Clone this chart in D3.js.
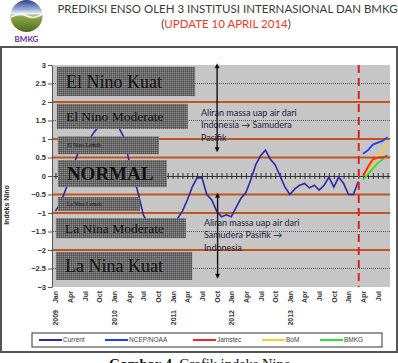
<!DOCTYPE html>
<html><head><meta charset="utf-8">
<script src="https://cdn.jsdelivr.net/npm/d3@7"></script>
<style>body{margin:0;background:#fff}svg{display:block}</style>
</head><body>
<svg id="c" width="398" height="363"></svg>
<script>
// ---------- data ----------
const years = [2009, 2010, 2011, 2012, 2013, 2014];
const monthNames = ["Jan","Feb","Mar","Apr","May","Jun","Jul","Aug","Sep","Oct","Nov","Dec"];
const categories = years.flatMap(y => monthNames.map(m => m + " " + y)).slice(0, 69); // Jan 2009 .. Sep 2014
const currentValues = [
  -0.95,-0.75,-0.4,-0.05,0.4,0.75,0.9,1.0,1.2,1.35,1.6,1.75,
  1.5,1.3,1.05,0.45,0.0,-0.5,-1.05,-1.3,-1.45,-1.5,-1.45,-1.5,
  -1.35,-1.15,-0.95,-0.65,-0.3,-0.05,-0.05,-0.5,-0.65,-0.95,-1.1,-1.05,
  -1.1,-0.85,-0.6,-0.45,-0.1,0.3,0.55,0.7,0.45,0.3,0.0,-0.3,
  -0.5,-0.35,-0.25,-0.2,-0.32,-0.25,-0.38,-0.25,-0.03,-0.3,-0.03,-0.2,
  -0.5,-0.5,-0.15
];
const forecastCats = ["Apr 2014","May 2014","Jun 2014","Jul 2014","Aug 2014","Sep 2014"];
const ncepValues    = [0.6, 0.7, 0.85, 0.9, 0.95, 1.05];
const jamstecValues = [0.0, 0.25, 0.45, 0.5, 0.5, 0.55];
const bomValues     = [0.0, 0.15, 0.35, 0.55, 0.7, 0.9];
const bmkgValues    = [-0.1, 0.05, 0.2, 0.35, 0.45, 0.55];
const yTicks = [3,2.5,2,1.5,1,0.5,0,-0.5,-1,-1.5,-2,-2.5,-3];
const xTickCats = categories.filter((d, i) => i % 3 === 0);
const thresholdLevels = [2, 1, 0.5, -0.5, -1, -2];
const dottedLevels = [2.5, 1.5, -1.5, -2.5];
const boxLabels = ["El Nino Kuat","El Nino Moderate","El Nino Lemah","NORMAL","La Nina Lemah","La Nina Moderate","La Nina Kuat"];
const seriesNames = ["Current","NCEP/NOAA","Jamstec","BoM","BMKG"];

// ---------- layout ----------
const svg = d3.select("#c");
const colors = {Current:"#2a2aa8","NCEP/NOAA":"#1f3cff",Jamstec:"#ff2020",BoM:"#ffcc33",BMKG:"#33dd33"};
const x = d3.scalePoint().domain(categories).range([53, 390]).padding(0.5);
const y = d3.scaleLinear().domain([-3, 3]).range([287, 65]);
const xi = d3.scaleLinear().domain([0, categories.length - 1]).range([x(categories[0]), x(categories[categories.length - 1])]);

// texture pattern
const defs = svg.append("defs");
const pat = defs.append("pattern").attr("id","tex").attr("width",2).attr("height",2).attr("patternUnits","userSpaceOnUse");
pat.append("rect").attr("width",2).attr("height",2).attr("fill","#6a6a6a");
pat.append("rect").attr("width",1).attr("height",1).attr("fill","#8e8e8e");
pat.append("rect").attr("x",1).attr("y",1).attr("width",1).attr("height",1).attr("fill","#4c4c4c");
const lg = defs.append("linearGradient").attr("id","globe").attr("x1",0).attr("y1",0).attr("x2",0).attr("y2",1);
[["0%","#2c3f8e"],["30%","#9fb2d8"],["42%","#e8eef6"],["52%","#8fa64a"],["100%","#4e6a1e"]].forEach(s=>lg.append("stop").attr("offset",s[0]).attr("stop-color",s[1]));

// title + logo
svg.append("circle").attr("cx",26.5).attr("cy",16).attr("r",16).attr("fill","url(#globe)");
svg.append("path").attr("d","M11,17 Q20,12 27,16 T42,14").attr("fill","none").attr("stroke","#fff").attr("stroke-width",1.5);
svg.append("text").attr("x",26.5).attr("y",42).attr("text-anchor","middle").attr("font-family","Lato, sans-serif").attr("font-weight","bold").attr("font-size",8).attr("fill","#6a2c91").text("BMKG");
svg.append("text").attr("x",227.5).attr("y",13).attr("text-anchor","middle").attr("font-family","Lato, sans-serif").attr("font-size",11.5).attr("fill","#3a3a3a").text("PREDIKSI ENSO OLEH 3 INSTITUSI INTERNASIONAL DAN BMKG");
const t2 = svg.append("text").attr("x",226).attr("y",28).attr("text-anchor","middle").attr("font-family","Lato, sans-serif").attr("font-size",11.5).attr("fill","#3a3a3a");
t2.append("tspan").text("(");
t2.append("tspan").attr("fill","#e8392b").text("UPDATE 10 APRIL 2014");
t2.append("tspan").text(")");

// frame
svg.append("rect").attr("x",1).attr("y",47).attr("width",396).attr("height",305).attr("fill","none").attr("stroke","#555").attr("stroke-width",2);

// plot background
svg.append("rect").attr("x",53).attr("y",65).attr("width",337).attr("height",222).attr("fill","#c6c6c6");

// dotted gridlines
svg.selectAll(".dot").data(dottedLevels).join("line")
  .attr("x1",53).attr("x2",390).attr("y1",d=>y(d)).attr("y2",d=>y(d))
  .attr("stroke","#555").attr("stroke-width",1).attr("stroke-dasharray","1,1");
// threshold lines
svg.selectAll(".thr").data(thresholdLevels).join("line")
  .attr("x1",53).attr("x2",390).attr("y1",d=>y(d)).attr("y2",d=>y(d))
  .attr("stroke","#c0561a").attr("stroke-width",2.2);

// category axis at 0
const ax0 = svg.append("g").attr("transform",`translate(0,${y(0)})`)
  .call(d3.axisBottom(x).tickValues(categories).tickSize(3).tickSizeOuter(0).tickFormat(""));
ax0.selectAll(".tick line").attr("y1",-3).attr("y2",3).attr("stroke","#333");
ax0.select(".domain").attr("stroke","#333");

// current line
const line = (cats) => d3.line().x((d,i)=>x(cats[i])).y(d=>y(d));
svg.append("path").attr("d",line(categories.slice(0,currentValues.length))(currentValues))
  .attr("fill","none").attr("stroke",colors.Current).attr("stroke-width",1.6);

// boxes (value ranges / category index ranges)
const boxes = [
  {label:boxLabels[0], i0:0.3, i1:28.6, v0:2.95, v1:2.16, size:18, weight:"normal"},
  {label:boxLabels[1], i0:0.3, i1:27.1, v0:1.95, v1:1.27, size:13.5, weight:"normal"},
  {label:boxLabels[2], i0:0.5, i1:21.2, v0:1.07, v1:0.59, size:5.5, weight:"normal"},
  {label:boxLabels[3], i0:0.5, i1:22.8, v0:0.43, v1:-0.3, size:19, weight:"bold"},
  {label:boxLabels[4], i0:0.5, i1:17.3, v0:-0.57, v1:-0.95, size:5.5, weight:"normal"},
  {label:boxLabels[5], i0:0.1, i1:26.7, v0:-1.14, v1:-1.68, size:13.5, weight:"normal"},
  {label:boxLabels[6], i0:0.1, i1:28.0, v0:-2.05, v1:-2.81, size:18, weight:"normal"}
];
const bg = svg.append("g");
boxes.forEach(b=>{
  bg.append("rect").attr("x",xi(b.i0)).attr("y",y(b.v0)).attr("width",xi(b.i1)-xi(b.i0)).attr("height",y(b.v1)-y(b.v0)).attr("fill","url(#tex)");
  bg.append("text").attr("x",xi(b.i0)+9).attr("y",(y(b.v0)+y(b.v1))/2).attr("dy","0.35em")
    .attr("font-family","'Liberation Serif','Times New Roman',serif").attr("font-size",b.size).attr("font-weight",b.weight)
    .attr("fill","#111").text(b.label);
});

// forecast lines
[["NCEP/NOAA",ncepValues],["Jamstec",jamstecValues],["BoM",bomValues],["BMKG",bmkgValues]].reverse().forEach(([n,v])=>{
  svg.append("path").attr("d",line(forecastCats)(v)).attr("fill","none").attr("stroke",colors[n]).attr("stroke-width",1.8);
});

// annotations
const ann = (lines, x0, yb) => {
  const t = svg.append("text").attr("font-family","Lato, sans-serif").attr("font-size",9).attr("fill","#1b1b40");
  lines.forEach((l,k)=>t.append("tspan").attr("x",x0).attr("y",yb+k*12.3).text(l));
};
ann(["Aliran massa uap air dari","Indonesia \u2192 Samudera","Pasifik"], xi(29.8), 116);
ann(["Aliran massa uap air dari","Samudera Pasifik \u2192","Indonesia"], xi(30.4), 226);

// arrows
const arrow = (i, v0, v1) => {
  const ax = xi(i), ya = y(v0), yb2 = y(v1);
  svg.append("line").attr("x1",ax).attr("x2",ax).attr("y1",ya+3).attr("y2",yb2-3).attr("stroke","#111").attr("stroke-width",1.4);
  svg.append("path").attr("d",`M${ax-2.5},${ya+5} L${ax},${ya} L${ax+2.5},${ya+5}Z`).attr("fill","#111");
  svg.append("path").attr("d",`M${ax-2.5},${yb2-5} L${ax},${yb2} L${ax+2.5},${yb2-5}Z`).attr("fill","#111");
};
arrow(33.1, 3.05, 0.64);
arrow(33.2, -0.45, -2.78);

// red dashed
svg.append("line").attr("x1",x("Mar 2014")+0.5).attr("x2",x("Mar 2014")+0.5).attr("y1",y(3)).attr("y2",y(-3))
  .attr("stroke","#e02020").attr("stroke-width",2).attr("stroke-dasharray","8,5");

// y axis
const ay = svg.append("g").attr("transform","translate(52,0)")
  .call(d3.axisLeft(y).tickValues(yTicks).tickSize(4).tickSizeOuter(0).tickFormat(d3.format("")));
ay.select(".domain").attr("stroke","#555");
ay.selectAll(".tick line").attr("stroke","#555");
ay.selectAll(".tick text").attr("font-family","Arial, 'Liberation Sans', sans-serif").attr("font-size",7.5).attr("font-weight","bold").attr("fill","#333").attr("x",-6);
svg.append("text").attr("transform","translate(9,205) rotate(-90)").attr("text-anchor","middle")
  .attr("font-family","Arial, 'Liberation Sans', sans-serif").attr("font-size",7).attr("font-weight","bold").attr("fill","#222").text("Indeks Nino");

// x labels
const axb = svg.append("g").attr("transform","translate(0,287)")
  .call(d3.axisBottom(x).tickValues(xTickCats).tickSize(0).tickFormat(d=>d.split(" ")[0]));
axb.select(".domain").remove();
axb.selectAll(".tick text").attr("transform","rotate(-90)").attr("text-anchor","end").attr("x",-4).attr("y",0).attr("dy","0.35em")
  .attr("font-family","Arial, 'Liberation Sans', sans-serif").attr("font-size",7).attr("font-weight","bold").attr("fill","#333");
axb.selectAll(".tick").filter(d=>d.startsWith("Jan")).append("text").attr("transform","rotate(-90)").attr("text-anchor","end")
  .attr("x",-23).attr("y",0).attr("dy","0.35em").attr("font-family","Arial, 'Liberation Sans', sans-serif").attr("font-size",7).attr("font-weight","bold").attr("fill","#333")
  .text(d=>{const yr=d.split(" ")[1]; return yr==="2014"?"":yr;});

// legend
svg.append("rect").attr("x",32).attr("y",333).attr("width",350).attr("height",14).attr("fill","#fff").attr("stroke","#333").attr("stroke-width",1);
const legX = [39,105,193,262,320];
seriesNames.forEach((n,k)=>{
  svg.append("line").attr("x1",legX[k]).attr("x2",legX[k]+23).attr("y1",340).attr("y2",340).attr("stroke",colors[n]).attr("stroke-width",2);
  svg.append("text").attr("x",legX[k]+24).attr("y",340).attr("dy","0.35em").attr("font-family","Arial, 'Liberation Sans', sans-serif").attr("font-size",6.5).attr("fill","#444").text(n);
});

// caption
const cap = svg.append("text").attr("x",200).attr("y",368.5).attr("text-anchor","middle").attr("font-family","'Liberation Serif','Times New Roman',serif").attr("font-size",14.5).attr("fill","#111");
cap.append("tspan").attr("font-weight","bold").text("Gambar 4. ");
cap.append("tspan").text("Grafik indeks Nino");
</script>
</body></html>
